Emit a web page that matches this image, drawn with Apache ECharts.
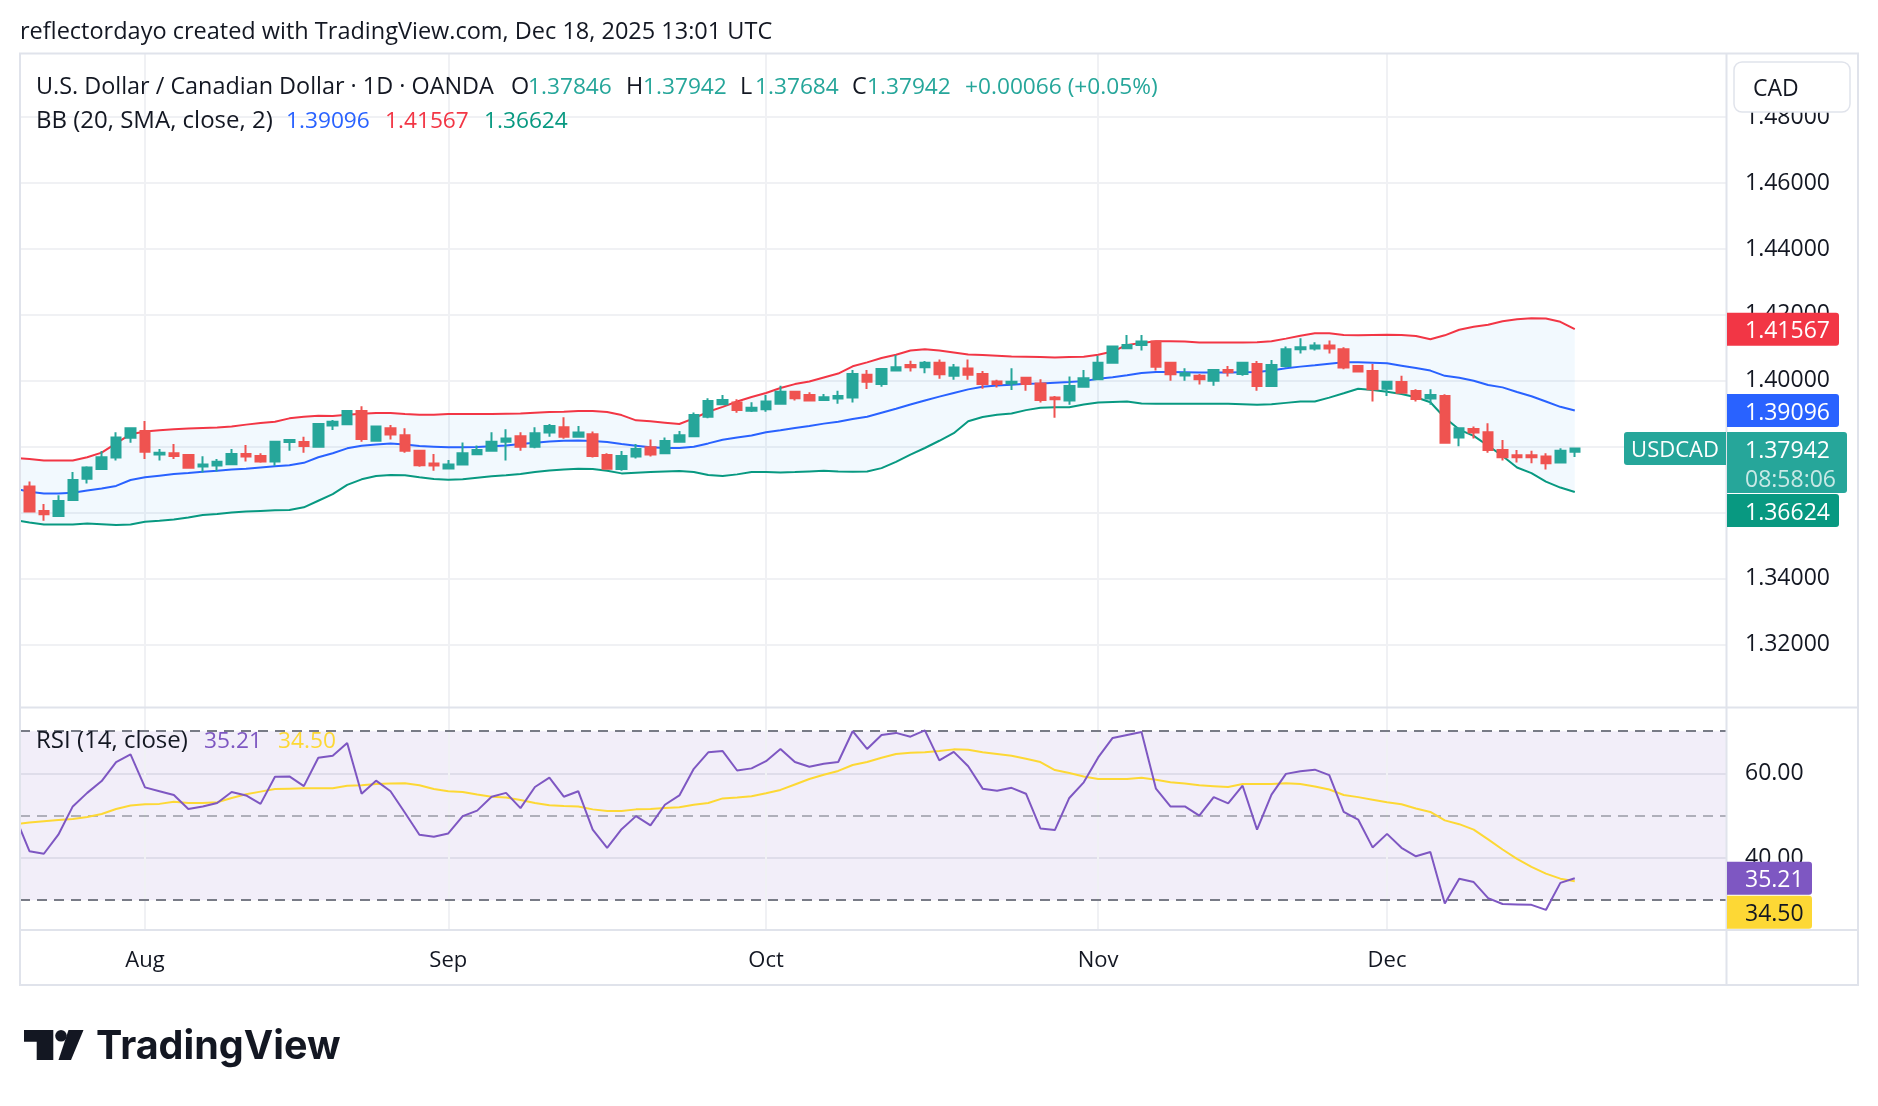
<!DOCTYPE html>
<html lang="en">
<head>
<meta charset="utf-8">
<title>USDCAD · 1D · OANDA</title>
<script src="https://cdn.jsdelivr.net/npm/echarts@6.0.0/dist/echarts.min.js"></script>
<style>
  html, body { margin: 0; padding: 0; background: #ffffff; }
  #chart { width: 1878px; height: 1106px; }
</style>
</head>
<body>
<div id="chart"></div>
<script>
// trading days (Jul .. Dec 2025)
const dates = [
  '2025-07-21','2025-07-22','2025-07-23','2025-07-24','2025-07-25','2025-07-28','2025-07-29','2025-07-30','2025-07-31',
  '2025-08-01','2025-08-04','2025-08-05','2025-08-06','2025-08-07','2025-08-08','2025-08-11','2025-08-12','2025-08-13','2025-08-14','2025-08-15','2025-08-18','2025-08-19','2025-08-20','2025-08-21','2025-08-22','2025-08-25','2025-08-26','2025-08-27','2025-08-28','2025-08-29',
  '2025-09-01','2025-09-02','2025-09-03','2025-09-04','2025-09-05','2025-09-08','2025-09-09','2025-09-10','2025-09-11','2025-09-12','2025-09-15','2025-09-16','2025-09-17','2025-09-18','2025-09-19','2025-09-22','2025-09-23','2025-09-24','2025-09-25','2025-09-26','2025-09-29','2025-09-30',
  '2025-10-01','2025-10-02','2025-10-03','2025-10-06','2025-10-07','2025-10-08','2025-10-09','2025-10-10','2025-10-13','2025-10-14','2025-10-15','2025-10-16','2025-10-17','2025-10-20','2025-10-21','2025-10-22','2025-10-23','2025-10-24','2025-10-27','2025-10-28','2025-10-29','2025-10-30','2025-10-31',
  '2025-11-03','2025-11-04','2025-11-05','2025-11-06','2025-11-07','2025-11-10','2025-11-11','2025-11-12','2025-11-13','2025-11-14','2025-11-17','2025-11-18','2025-11-19','2025-11-20','2025-11-21','2025-11-24','2025-11-25','2025-11-26','2025-11-27','2025-11-28',
  '2025-12-01','2025-12-02','2025-12-03','2025-12-04','2025-12-05','2025-12-08','2025-12-09','2025-12-10','2025-12-11','2025-12-12','2025-12-15','2025-12-16','2025-12-17','2025-12-18'
];

// OHLC
const opens = [
  1.3712, 1.3679, 1.3605, 1.3590, 1.3638, 1.3703, 1.3732, 1.3767, 1.3827,
  1.3848, 1.3776, 1.3780, 1.3775, 1.3740, 1.3743, 1.3747, 1.3778, 1.3772, 1.3755, 1.3814, 1.3814, 1.3800, 1.3864, 1.3868, 1.3908, 1.3818, 1.3856, 1.3835, 1.3788, 1.3749,
  1.3734, 1.3746, 1.3777, 1.3788, 1.3815, 1.3832, 1.3800, 1.3843, 1.3859, 1.3830, 1.3838, 1.3775, 1.3732, 1.3770, 1.3798, 1.3780, 1.3815, 1.3832, 1.3891, 1.3929, 1.3934, 1.3909,
  1.3914, 1.3930, 1.3967, 1.3957, 1.3942, 1.3946, 1.3949, 1.4018, 1.3990, 1.4031, 1.4048, 1.4041, 1.4055, 1.4015, 1.4037, 1.4021, 1.3998, 1.3992, 1.4009, 1.3992, 1.3949, 1.3940, 1.3982,
  1.4005, 1.4055, 1.4099, 1.4109, 1.4119, 1.4055, 1.4016, 1.4015, 1.4000, 1.4033, 1.4021, 1.4051, 1.3984, 1.4045, 1.4096, 1.4098, 1.4107, 1.4096, 1.4045, 1.4030,
  1.3976, 1.3996, 1.3969, 1.3946, 1.3954, 1.3828, 1.3854, 1.3844, 1.3790, 1.3774, 1.3774, 1.3770, 1.3752, 1.37846
];
const highs = [
  1.3722, 1.3694, 1.3626, 1.3653, 1.3723, 1.3741, 1.3787, 1.3844, 1.3857,
  1.3878, 1.3793, 1.3808, 1.3778, 1.3771, 1.3763, 1.3793, 1.3805, 1.3780, 1.3817, 1.3820, 1.3830, 1.3871, 1.3881, 1.3911, 1.3923, 1.3863, 1.3866, 1.3856, 1.3788, 1.3778,
  1.3760, 1.3813, 1.3804, 1.3844, 1.3853, 1.3844, 1.3859, 1.3869, 1.3889, 1.3863, 1.3846, 1.3780, 1.3787, 1.3808, 1.3822, 1.3828, 1.3848, 1.3904, 1.3947, 1.3957, 1.3944, 1.3935,
  1.3957, 1.3985, 1.3969, 1.3965, 1.3960, 1.3970, 1.4033, 1.4033, 1.4038, 1.4078, 1.4061, 1.4060, 1.4065, 1.4051, 1.4065, 1.4030, 1.4003, 1.4038, 1.4010, 1.4005, 1.3954, 1.4013, 1.4033,
  1.4076, 1.4106, 1.4139, 1.4139, 1.4122, 1.4058, 1.4038, 1.4021, 1.4036, 1.4045, 1.4058, 1.4060, 1.4063, 1.4104, 1.4129, 1.4117, 1.4122, 1.4102, 1.4048, 1.4051,
  1.4000, 1.4015, 1.3974, 1.3974, 1.3959, 1.3858, 1.3861, 1.3871, 1.3820, 1.3790, 1.3788, 1.3780, 1.3795, 1.37942
];
const lows = [
  1.3670, 1.3600, 1.3575, 1.3588, 1.3636, 1.3688, 1.3731, 1.3758, 1.3812,
  1.3763, 1.3758, 1.3763, 1.3733, 1.3722, 1.3725, 1.3745, 1.3755, 1.3751, 1.3742, 1.3788, 1.3782, 1.3798, 1.3851, 1.3866, 1.3815, 1.3815, 1.3822, 1.3782, 1.3739, 1.3727,
  1.3731, 1.3744, 1.3775, 1.3787, 1.3758, 1.3788, 1.3795, 1.3830, 1.3824, 1.3830, 1.3767, 1.3733, 1.3727, 1.3764, 1.3770, 1.3779, 1.3812, 1.3830, 1.3886, 1.3926, 1.3903, 1.3905,
  1.3906, 1.3928, 1.3940, 1.3939, 1.3940, 1.3930, 1.3934, 1.3975, 1.3982, 1.4030, 1.4028, 1.4023, 1.4006, 1.4003, 1.4003, 1.3976, 1.3980, 1.3972, 1.3970, 1.3934, 1.3888, 1.3927, 1.3980,
  1.4003, 1.4053, 1.4097, 1.4092, 1.4031, 1.4000, 1.4000, 1.3989, 1.3985, 1.4013, 1.4015, 1.3970, 1.3982, 1.4040, 1.4083, 1.4092, 1.4083, 1.4035, 1.4026, 1.3937,
  1.3954, 1.3963, 1.3937, 1.3927, 1.3811, 1.3801, 1.3825, 1.3782, 1.3758, 1.3752, 1.3750, 1.3731, 1.3750, 1.37684
];
const closes = [
  1.3680, 1.3603, 1.3595, 1.3635, 1.3699, 1.3737, 1.3768, 1.3828, 1.3856,
  1.3785, 1.3782, 1.3772, 1.3736, 1.3746, 1.3754, 1.3778, 1.3770, 1.3755, 1.3815, 1.3820, 1.3802, 1.3869, 1.3876, 1.3908, 1.3823, 1.3861, 1.3837, 1.3788, 1.3744, 1.3743,
  1.3746, 1.3780, 1.3790, 1.3815, 1.3825, 1.3800, 1.3841, 1.3863, 1.3830, 1.3843, 1.3772, 1.3733, 1.3772, 1.3793, 1.3776, 1.3817, 1.3835, 1.3896, 1.3939, 1.3942, 1.3911, 1.3918,
  1.3937, 1.3967, 1.3947, 1.3940, 1.3950, 1.3954, 1.4021, 1.3997, 1.4036, 1.4041, 1.4041, 1.4055, 1.4020, 1.4040, 1.4018, 1.3990, 1.3990, 1.3997, 1.3990, 1.3942, 1.3944, 1.3984, 1.4008,
  1.4055, 1.4104, 1.4109, 1.4119, 1.4043, 1.4020, 1.4023, 1.4005, 1.4033, 1.4026, 1.4055, 1.3984, 1.4048, 1.4096, 1.4102, 1.4107, 1.4098, 1.4040, 1.4028, 1.3974,
  1.3997, 1.3964, 1.3945, 1.3957, 1.3812, 1.3856, 1.3843, 1.3790, 1.3768, 1.3768, 1.3768, 1.3750, 1.37876, 1.37942
];

// Bollinger Bands (20, SMA, close, 2)
const bbUpper = [
  1.3766, 1.3763, 1.3758, 1.3758, 1.3758, 1.3768, 1.3782, 1.3810, 1.3838,
  1.3846, 1.3850, 1.3853, 1.3855, 1.3857, 1.3858, 1.3861, 1.3867, 1.3872, 1.3876, 1.3886, 1.3891, 1.3894, 1.3893, 1.3897, 1.3900, 1.3902, 1.3902, 1.3899, 1.3897, 1.3897,
  1.3899, 1.3899, 1.3899, 1.3899, 1.3900, 1.3901, 1.3903, 1.3905, 1.3906, 1.3908, 1.3908, 1.3905, 1.3896, 1.3880, 1.3877, 1.3873, 1.3869, 1.3886, 1.3906, 1.3921, 1.3937, 1.3951,
  1.3963, 1.3978, 1.3990, 1.3998, 1.4010, 1.4022, 1.4044, 1.4056, 1.4069, 1.4079, 1.4092, 1.4096, 1.4092, 1.4086, 1.4080, 1.4078, 1.4076, 1.4074, 1.4073, 1.4072, 1.4071, 1.4072, 1.4073,
  1.4079, 1.4089, 1.4109, 1.4115, 1.4120, 1.4120, 1.4119, 1.4116, 1.4116, 1.4116, 1.4116, 1.4117, 1.4120, 1.4128, 1.4137, 1.4144, 1.4144, 1.4139, 1.4138, 1.4139,
  1.4140, 1.4139, 1.4136, 1.4126, 1.4138, 1.4155, 1.4164, 1.4170, 1.4181, 1.4187, 1.4190, 1.4189, 1.4179, 1.41567
];
const bbBasis = [
  1.3673, 1.3663, 1.3658, 1.3658, 1.3660, 1.3667, 1.3673, 1.3681, 1.3699,
  1.3707, 1.3712, 1.3717, 1.3720, 1.3724, 1.3727, 1.3731, 1.3733, 1.3737, 1.3741, 1.3744, 1.3751, 1.3768, 1.3780, 1.3795, 1.3803, 1.3807, 1.3810, 1.3807, 1.3802, 1.3800,
  1.3798, 1.3798, 1.3799, 1.3801, 1.3804, 1.3808, 1.3812, 1.3816, 1.3818, 1.3819, 1.3817, 1.3814, 1.3808, 1.3803, 1.3798, 1.3796, 1.3796, 1.3800, 1.3810, 1.3821, 1.3828, 1.3834,
  1.3844, 1.3850, 1.3857, 1.3863, 1.3870, 1.3876, 1.3884, 1.3891, 1.3903, 1.3915, 1.3928, 1.3940, 1.3952, 1.3963, 1.3974, 1.3982, 1.3986, 1.3988, 1.3991, 1.3992, 1.3994, 1.3996, 1.3999,
  1.4006, 1.4011, 1.4017, 1.4024, 1.4027, 1.4027, 1.4026, 1.4025, 1.4025, 1.4025, 1.4026, 1.4027, 1.4031, 1.4038, 1.4043, 1.4047, 1.4052, 1.4056, 1.4056, 1.4055,
  1.4053, 1.4046, 1.4039, 1.4031, 1.4015, 1.4009, 1.4000, 1.3987, 1.3980, 1.3966, 1.3953, 1.3937, 1.3921, 1.39096
];
const bbLower = [
  1.3577, 1.3570, 1.3564, 1.3564, 1.3564, 1.3567, 1.3565, 1.3562, 1.3564,
  1.3572, 1.3575, 1.3579, 1.3585, 1.3593, 1.3596, 1.3600, 1.3603, 1.3605, 1.3607, 1.3608, 1.3616, 1.3636, 1.3656, 1.3684, 1.3701, 1.3711, 1.3714, 1.3713, 1.3707, 1.3702,
  1.3700, 1.3701, 1.3706, 1.3710, 1.3713, 1.3717, 1.3723, 1.3728, 1.3731, 1.3733, 1.3732, 1.3727, 1.3719, 1.3721, 1.3723, 1.3725, 1.3726, 1.3723, 1.3714, 1.3711, 1.3716, 1.3723,
  1.3723, 1.3722, 1.3723, 1.3725, 1.3727, 1.3725, 1.3724, 1.3725, 1.3735, 1.3754, 1.3776, 1.3796, 1.3818, 1.3841, 1.3877, 1.3890, 1.3897, 1.3901, 1.3911, 1.3918, 1.3920, 1.3920, 1.3928,
  1.3934, 1.3936, 1.3937, 1.3931, 1.3930, 1.3930, 1.3930, 1.3930, 1.3930, 1.3930, 1.3929, 1.3927, 1.3929, 1.3933, 1.3937, 1.3937, 1.3949, 1.3962, 1.3976, 1.3972,
  1.3967, 1.3960, 1.3950, 1.3935, 1.3888, 1.3852, 1.3833, 1.3803, 1.3772, 1.3737, 1.3720, 1.3694, 1.3676, 1.36624
];

// RSI (14, close) and its MA
const rsiValues = [
  49.9, 41.6, 41.0, 45.5, 52.2, 55.4, 58.2, 62.7, 64.5,
  56.7, 55.8, 54.9, 51.6, 52.2, 53.0, 55.6, 54.8, 52.8, 59.2, 59.3, 57.0, 63.7, 64.2, 67.2, 55.2, 58.3, 55.8, 50.7, 45.5, 45.0,
  45.8, 49.9, 51.2, 54.5, 55.4, 51.8, 56.8, 59.0, 54.5, 55.8, 46.7, 42.4, 46.8, 49.9, 47.7, 52.6, 54.8, 61.1, 65.0, 65.3, 60.7, 61.2,
  62.9, 65.8, 62.7, 61.6, 62.3, 62.7, 70.0, 65.8, 69.1, 69.6, 68.7, 70.2, 63.1, 65.1, 61.7, 56.4, 55.9, 56.6, 55.2, 47.0, 46.6, 54.2, 57.9,
  63.8, 68.4, 69.1, 69.8, 56.4, 52.2, 52.2, 50.0, 54.4, 52.9, 57.1, 46.7, 55.0, 59.9, 60.5, 60.9, 59.6, 50.9, 49.1, 42.5,
  45.7, 42.4, 40.4, 41.4, 29.2, 35.1, 34.3, 30.5, 29.1, 29.0, 28.9, 27.7, 34.1, 35.21
];
const rsiMa = [
  48.0, 48.4, 48.7, 49.0, 49.2, 49.7, 50.4, 51.6, 52.4,
  52.7, 52.8, 53.3, 53.0, 53.0, 53.2, 54.2, 55.1, 55.7, 56.3, 56.4, 56.5, 56.5, 56.5, 57.1, 57.2, 57.5, 57.6, 57.7, 57.2, 56.3,
  55.8, 55.6, 55.0, 54.5, 54.3, 53.7, 53.0, 52.5, 52.3, 52.2, 51.5, 51.1, 51.1, 51.5, 51.6, 51.8, 52.0, 52.6, 53.0, 54.1, 54.3, 54.6,
  55.3, 56.1, 57.4, 58.7, 59.7, 60.6, 62.0, 62.7, 63.7, 64.6, 64.9, 65.0, 65.3, 65.7, 65.6, 65.0, 64.6, 64.2, 63.5, 62.7, 60.8, 60.1, 59.3,
  58.7, 58.7, 58.7, 59.0, 58.5, 57.9, 57.6, 57.2, 57.0, 56.8, 57.5, 57.5, 57.5, 57.7, 57.5, 56.9, 56.2, 54.9, 54.4, 53.8,
  53.2, 52.7, 51.7, 50.9, 48.9, 48.0, 46.7, 44.4, 42.0, 39.8, 37.9, 36.3, 35.1, 34.50
];

// tick labels
const monthLabels = ['Aug', 'Sep', 'Oct', 'Nov', 'Dec'];
const priceTicks = [1.32, 1.34, 1.36, 1.38, 1.40, 1.42, 1.44, 1.46, 1.48];
const rsiTicks = [40, 60];
const rsiLevels = [70, 50, 30];

// styles
const FONT = '"Open Sans", sans-serif';
const TEXT = '#131722';
const UP = '#26a69a';
const DOWN = '#ef5350';
const GRID_LINE = '#f0f1f4';
const BORDER = '#e0e3eb';
const BB_UP = '#f23645';
const BB_MID = '#2962ff';
const BB_LOW = '#089981';
const BB_FILL = 'rgba(33, 150, 243, 0.06)';
const RSI_COLOR = '#7e57c2';
const RSI_MA_COLOR = '#fdd835';

// pane layout (pixels) and visible ranges
const PLOT_LEFT = 20;
const PLOT_WIDTH = 1706;
const SCALE_X = PLOT_LEFT + PLOT_WIDTH;
const MAIN_TOP = 53.5;
const MAIN_BOTTOM = 707.5;
const RSI_BOTTOM = 930;
const X_MIN = 0.346;
const X_MAX = 118.47;
const PRICE_MIN = 1.30085;
const PRICE_MAX = 1.49933;
const RSI_MIN = 22.95;
const RSI_MAX = 75.61;

const last = arr => arr[arr.length - 1];
const withIndex = arr => arr.map((v, i) => [i, v]);

// first trading day of each new month
const monthStarts = dates
  .map((d, i) => (i > 0 && d.slice(5, 7) !== dates[i - 1].slice(5, 7) ? i : -1))
  .filter(i => i >= 0);

const candleData = dates.map((d, i) => [i, opens[i], closes[i], lows[i], highs[i]]);

const chart = echarts.init(document.getElementById('chart'), null, { renderer: 'canvas' });

const axisLabelStyle = { color: TEXT, fontSize: 23, fontFamily: FONT };
const hiddenAxisParts = {
  axisLine: { show: false },
  axisTick: { show: false },
  splitLine: { show: false }
};

// band fill: polygon from upper points back along lower points
const renderBandFill = (params, api) => {
  const upperPts = bbUpper.map((v, i) => api.coord([i, v]));
  const lowerPts = bbLower.map((v, i) => api.coord([i, v])).reverse();
  const cs = params.coordSys;
  const points = echarts.graphic.clipPointsByRect(upperPts.concat(lowerPts), {
    x: cs.x, y: cs.y, width: cs.width, height: cs.height
  });
  return { type: 'polygon', shape: { points }, style: { fill: BB_FILL }, silent: true };
};

const option = {
  animation: false,
  backgroundColor: '#ffffff',
  textStyle: { fontFamily: FONT },
  grid: [
    { left: PLOT_LEFT, top: MAIN_TOP, width: PLOT_WIDTH, height: MAIN_BOTTOM - MAIN_TOP, containLabel: false, outerBoundsMode: 'none' },
    { left: PLOT_LEFT, top: MAIN_BOTTOM, width: PLOT_WIDTH, height: RSI_BOTTOM - MAIN_BOTTOM, containLabel: false, outerBoundsMode: 'none' }
  ],
  xAxis: [
    { type: 'value', gridIndex: 0, min: X_MIN, max: X_MAX, show: false },
    {
      type: 'value', gridIndex: 1, min: X_MIN, max: X_MAX,
      ...hiddenAxisParts,
      axisLabel: {
        ...axisLabelStyle,
        fontSize: 22,
        customValues: monthStarts,
        margin: 19.5,
        formatter: v => monthLabels[monthStarts.indexOf(v)] || ''
      }
    }
  ],
  yAxis: [
    {
      type: 'value', gridIndex: 0, position: 'right', min: PRICE_MIN, max: PRICE_MAX,
      ...hiddenAxisParts,
      axisLabel: { ...axisLabelStyle, customValues: priceTicks, margin: 19, padding: [5, 0, 0, 0], formatter: v => v.toFixed(5) }
    },
    {
      type: 'value', gridIndex: 1, position: 'right', min: RSI_MIN, max: RSI_MAX,
      ...hiddenAxisParts,
      axisLabel: { ...axisLabelStyle, customValues: rsiTicks, margin: 19, padding: [6, 0, 0, 0], formatter: v => v.toFixed(2) }
    }
  ],
  series: [
    // price pane grid
    {
      name: 'priceGrid', type: 'line', xAxisIndex: 0, yAxisIndex: 0, data: [], silent: true,
      markLine: {
        z: 0, silent: true, symbol: ['none', 'none'], label: { show: false },
        lineStyle: { color: GRID_LINE, width: 2, type: 'solid' },
        data: priceTicks.map(v => ({ yAxis: v })).concat(monthStarts.map(i => ({ xAxis: i })))
      }
    },
    {
      name: 'bbFill', type: 'custom', xAxisIndex: 0, yAxisIndex: 0, z: 1, silent: true,
      data: [[0, bbBasis[0]]], renderItem: renderBandFill
    },
    {
      name: 'Upper', type: 'line', xAxisIndex: 0, yAxisIndex: 0, z: 2,
      data: withIndex(bbUpper), symbol: 'none', silent: true, lineStyle: { color: BB_UP, width: 2 }
    },
    {
      name: 'Basis', type: 'line', xAxisIndex: 0, yAxisIndex: 0, z: 2,
      data: withIndex(bbBasis), symbol: 'none', silent: true, lineStyle: { color: BB_MID, width: 2 }
    },
    {
      name: 'Lower', type: 'line', xAxisIndex: 0, yAxisIndex: 0, z: 2,
      data: withIndex(bbLower), symbol: 'none', silent: true, lineStyle: { color: BB_LOW, width: 2 }
    },
    {
      name: 'USDCAD', type: 'candlestick', xAxisIndex: 0, yAxisIndex: 0, z: 3,
      data: candleData, barWidth: 10, silent: true,
      itemStyle: { color: UP, color0: DOWN, borderColor: UP, borderColor0: DOWN, borderWidth: 2 }
    },
    // RSI pane band, grid and levels
    {
      name: 'rsiGrid', type: 'line', xAxisIndex: 1, yAxisIndex: 1, data: [], silent: true,
      markArea: {
        z: 0, silent: true,
        itemStyle: { color: 'rgba(126, 87, 194, 0.1)' },
        data: [[{ yAxis: rsiLevels[0] }, { yAxis: rsiLevels[2] }]]
      },
      markLine: {
        z: 1, silent: true, symbol: ['none', 'none'], label: { show: false },
        lineStyle: { color: GRID_LINE, width: 2, type: 'solid' },
        data: rsiTicks.map(v => ({ yAxis: v, lineStyle: { color: 'rgba(200, 200, 215, 0.45)', width: 2, type: 'solid' } }))
          .concat(monthStarts.map(i => ({ xAxis: i })))
          .concat(rsiLevels.map(v => ({
            yAxis: v,
            lineStyle: { color: v === 50 ? 'rgba(120, 123, 134, 0.55)' : '#787b86', width: 2, type: [10, 7] }
          })))
      }
    },
    {
      name: 'RSI MA', type: 'line', xAxisIndex: 1, yAxisIndex: 1, z: 2,
      data: withIndex(rsiMa), symbol: 'none', silent: true, lineStyle: { color: RSI_MA_COLOR, width: 2 }
    },
    {
      name: 'RSI', type: 'line', xAxisIndex: 1, yAxisIndex: 1, z: 3,
      data: withIndex(rsiValues), symbol: 'none', silent: true, lineStyle: { color: RSI_COLOR, width: 2 }
    }
  ]
};

chart.setOption(option);

// text helper for graphic layer
const text = (x, y, str, color, size, weight, align) => ({
  type: 'text', x, y, z: 100, silent: true,
  style: {
    text: str, fill: color || TEXT,
    font: `${weight || 'normal'} ${size || 23}px ${FONT}`,
    textAlign: align || 'left', textVerticalAlign: 'middle', align: align || 'left', verticalAlign: 'middle'
  }
});
const line = (x1, y1, x2, y2) => ({
  type: 'line', z: 50, silent: true,
  shape: { x1, y1, x2, y2 }, style: { stroke: BORDER, lineWidth: 2 }
});
const tagBox = (top, w, h, fill) => ({
  type: 'rect', z: 99, silent: true,
  shape: { x: SCALE_X + 1, y: top, width: w, height: h, r: [0, 3, 3, 0] },
  style: { fill }
});

const TAG_H = 33;
const TITLE_SIZE = 23.4; // symbol description
const LABEL_SIZE = 24;   // indicator names
const VALUE_SIZE = 22.7; // numbers in the legends
const TXT_DY = 2.5;      // glyph centring offset
const fmt5 = v => v.toFixed(5);
const priceY = v => chart.convertToPixel({ yAxisIndex: 0 }, v);
const rsiY = v => chart.convertToPixel({ yAxisIndex: 1 }, v);

const graphics = [];

// frame and pane separators
graphics.push({
  type: 'rect', z: 50, silent: true,
  shape: { x: 20, y: MAIN_TOP, width: 1838, height: 985 - MAIN_TOP },
  style: { fill: 'none', stroke: BORDER, lineWidth: 2 }
});
graphics.push(line(SCALE_X + 0.5, MAIN_TOP, SCALE_X + 0.5, 985));
graphics.push(line(20, MAIN_BOTTOM, 1858, MAIN_BOTTOM));
graphics.push(line(20, RSI_BOTTOM, 1858, RSI_BOTTOM));

// watermark header
graphics.push(text(20, 30 + TXT_DY, 'reflectordayo created with TradingView.com, Dec 18, 2025 13:01 UTC', TEXT, 23.5));

// legend: symbol + OHLC
const change = last(closes) - closes[closes.length - 2];
const changePct = change / closes[closes.length - 2] * 100;
const sign = change >= 0 ? '+' : '−';
const legendColor = change >= 0 ? UP : DOWN;
const L1 = 85 + TXT_DY;
graphics.push(text(36, L1, 'U.S. Dollar / Canadian Dollar · 1D · OANDA', TEXT, TITLE_SIZE));
graphics.push(text(511, L1, 'O', TEXT, TITLE_SIZE));
graphics.push(text(528, L1, fmt5(last(opens)), legendColor, VALUE_SIZE));
graphics.push(text(626, L1, 'H', TEXT, TITLE_SIZE));
graphics.push(text(643, L1, fmt5(last(highs)), legendColor, VALUE_SIZE));
graphics.push(text(740, L1, 'L', TEXT, TITLE_SIZE));
graphics.push(text(755, L1, fmt5(last(lows)), legendColor, VALUE_SIZE));
graphics.push(text(852, L1, 'C', TEXT, TITLE_SIZE));
graphics.push(text(867, L1, fmt5(last(closes)), legendColor, VALUE_SIZE));
graphics.push(text(965, L1, `${sign}${Math.abs(change).toFixed(5)} (${sign}${Math.abs(changePct).toFixed(2)}%)`, legendColor, VALUE_SIZE));

// legend: BB
const L2 = 119 + TXT_DY;
graphics.push(text(36, L2, 'BB (20, SMA, close, 2)', TEXT, LABEL_SIZE));
graphics.push(text(286, L2, fmt5(last(bbBasis)), BB_MID, VALUE_SIZE));
graphics.push(text(385, L2, fmt5(last(bbUpper)), BB_UP, VALUE_SIZE));
graphics.push(text(484, L2, fmt5(last(bbLower)), BB_LOW, VALUE_SIZE));

// legend: RSI
const L3 = 739 + TXT_DY;
graphics.push(text(36, L3, 'RSI (14, close)', TEXT, LABEL_SIZE));
graphics.push(text(204, L3, last(rsiValues).toFixed(2), RSI_COLOR, VALUE_SIZE));
graphics.push(text(278, L3, last(rsiMa).toFixed(2), RSI_MA_COLOR, VALUE_SIZE));

// currency box on top of the price scale
graphics.push({
  type: 'rect', z: 98, silent: true,
  shape: { x: 1734, y: 62, width: 116, height: 50, r: 8 },
  style: { fill: '#ffffff', stroke: BORDER, lineWidth: 1.5 }
});
graphics.push(text(1753, 87 + TXT_DY, 'CAD', TEXT, 23));

// price scale tags
const yUpper = priceY(last(bbUpper));
const yBasis = priceY(last(bbBasis));
const yClose = priceY(last(closes));
const yLower = priceY(last(bbLower));

graphics.push(tagBox(yUpper - TAG_H / 2, 112, TAG_H, BB_UP));
graphics.push(text(1745, yUpper + TXT_DY, fmt5(last(bbUpper)), '#ffffff'));
graphics.push(tagBox(yBasis - TAG_H / 2, 112, TAG_H, BB_MID));
graphics.push(text(1745, yBasis + TXT_DY, fmt5(last(bbBasis)), '#ffffff'));

const closeTop = yClose - TAG_H / 2;
const closeH = 61;
graphics.push(tagBox(closeTop, 120, closeH, UP));
graphics.push(text(1745, yClose + TXT_DY, fmt5(last(closes)), '#ffffff'));
graphics.push(text(1745, yClose + 29 + TXT_DY, '08:58:06', 'rgba(255, 255, 255, 0.75)'));

// symbol tag left of the scale
graphics.push({
  type: 'rect', z: 99, silent: true,
  shape: { x: 1624, y: closeTop, width: SCALE_X - 1624, height: TAG_H, r: [3, 0, 0, 3] },
  style: { fill: UP }
});
graphics.push(text((1624 + SCALE_X) / 2, yClose + TXT_DY, 'USDCAD', '#ffffff', 22, 'normal', 'center'));

// lower band tag, pushed below the close tag when they collide
const lowerTop = Math.max(yLower - TAG_H / 2, closeTop + closeH + 1);
graphics.push(tagBox(lowerTop, 112, TAG_H, BB_LOW));
graphics.push(text(1745, lowerTop + TAG_H / 2 + TXT_DY, fmt5(last(bbLower)), '#ffffff'));

// RSI tags
const yRsi = rsiY(last(rsiValues));
const rsiTop = yRsi - TAG_H / 2;
graphics.push(tagBox(rsiTop, 85, TAG_H, RSI_COLOR));
graphics.push(text(1745, yRsi + TXT_DY, last(rsiValues).toFixed(2), '#ffffff'));
const maTop = Math.max(rsiY(last(rsiMa)) - TAG_H / 2, rsiTop + TAG_H + 1);
graphics.push(tagBox(maTop, 85, TAG_H, RSI_MA_COLOR));
graphics.push(text(1745, maTop + TAG_H / 2 + TXT_DY, last(rsiMa).toFixed(2), TEXT));

// TradingView logo
graphics.push({
  type: 'polygon', z: 100, silent: true,
  shape: { points: [[24, 1030], [53.3, 1030], [53.3, 1060], [36.7, 1060], [36.7, 1041.7], [24, 1041.7]] },
  style: { fill: TEXT }
});
graphics.push({
  type: 'circle', z: 100, silent: true,
  shape: { cx: 61, cy: 1035.8, r: 5.8 },
  style: { fill: TEXT }
});
graphics.push({
  type: 'polygon', z: 100, silent: true,
  shape: { points: [[68.5, 1030], [83.5, 1030], [71, 1060], [58.5, 1060]] },
  style: { fill: TEXT }
});
graphics.push({
  type: 'text', x: 96, y: 1047, z: 100, silent: true,
  style: {
    text: 'TradingView', fill: TEXT, font: '700 39.5px Inter, sans-serif',
    textAlign: 'left', textVerticalAlign: 'middle', align: 'left', verticalAlign: 'middle'
  }
});

chart.setOption({ graphic: { elements: graphics } });
</script>
</body>
</html>
